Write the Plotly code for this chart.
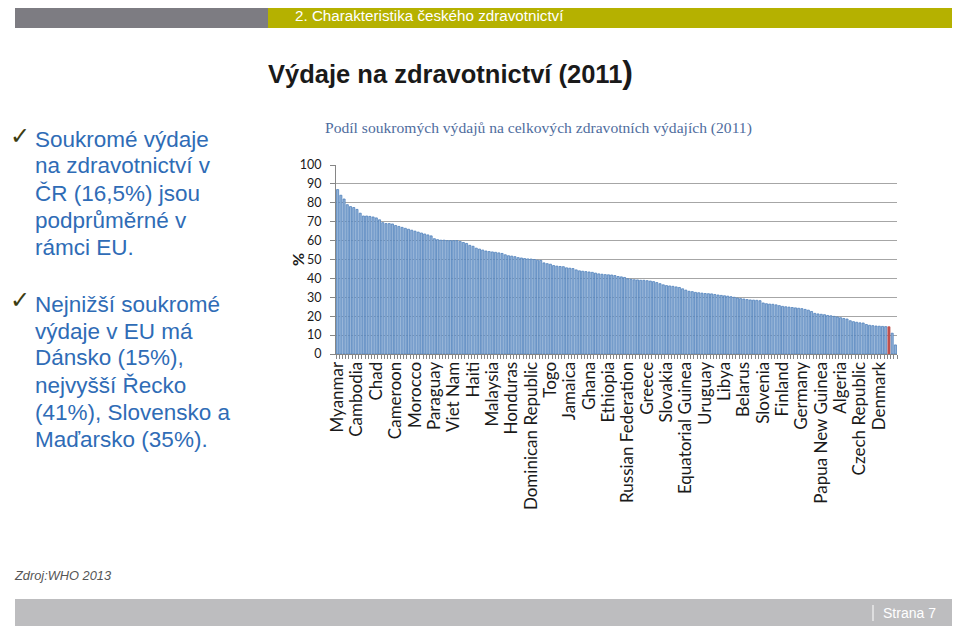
import plotly.graph_objects as go

W, H = 960, 629
OFF = 8  # page body margin shifts the figure by this much

# private share of total health expenditure, 2011 (%), sorted descending
values = [
    87, 84, 82, 79, 78, 77.5, 76.5, 74.5, 73, 73,
    72.8, 72.5, 72, 71, 69.5, 69, 69, 68.8, 68, 67.5,
    67, 66.5, 66, 65.5, 65, 64.5, 64, 63.5, 63, 62.5,
    61, 60.5, 60.2, 60.2, 60, 60, 60, 60, 59.5, 59,
    58.5, 57.5, 57, 56, 55.5, 55, 54.5, 54.2, 54, 53.8,
    53.5, 53.2, 52.5, 52, 51.8, 51.5, 51, 50.8, 50.5, 50.3,
    50.2, 50, 49.6, 49.5, 48.2, 47.8, 47.5, 46.8, 46.5, 46.3,
    46.2, 45.6, 45.4, 45.2, 44.5, 44, 43.8, 43.6, 43.4, 43.2,
    42.8, 42.4, 42.2, 42, 41.9, 41.8, 41.5, 41, 40.8, 40.5,
    39.8, 39.5, 39.3, 39.2, 39, 39, 38.8, 38.6, 38.3, 37.8,
    37.2, 36.6, 36.2, 36, 35.8, 35.5, 35.2, 34.5, 33.8, 33.2,
    33, 32.6, 32.4, 32.2, 32, 31.9, 31.8, 31.5, 31.2, 31,
    30.8, 30.6, 30.3, 30, 29.6, 29.3, 29.1, 28.8, 28.6, 28.5,
    28.4, 28.2, 27, 26.6, 26.4, 26.3, 26, 25.6, 25.2, 25,
    24.8, 24.6, 24.4, 24.2, 24, 23.6, 23.2, 22.5, 21.5, 21.2,
    21, 20.8, 20.4, 20.2, 19.9, 19.6, 19.2, 18.8, 18.5, 17.6,
    17.1, 16.8, 16.5, 16.4, 15.6, 15.2, 15, 14.8, 14.7, 14.6,
    14.5, 14.4, 11, 4.8,
]

# every 6th country is labelled on the axis
labels = [
    "Myanmar", "Cambodia", "Chad", "Cameroon", "Morocco", "Paraguay",
    "Viet Nam", "Haiti", "Malaysia", "Honduras", "Dominican Republic", "Togo",
    "Jamaica", "Ghana", "Ethiopia", "Russian Federation", "Greece", "Slovakia",
    "Equatorial Guinea", "Uruguay", "Libya", "Belarus", "Slovenia", "Finland",
    "Germany", "Papua New Guinea", "Algeria", "Czech Republic", "Denmark",
]
label_step = 6
highlight = 171

y_ticks = list(range(0, 101, 10))

bullet1 = ["Soukromé výdaje", "na zdravotnictví v", "ČR (16,5%) jsou",
           "podprůměrné v", "rámci EU."]
bullet2 = ["Nejnižší soukromé", "výdaje v EU má", "Dánsko (15%),",
           "nejvyšší Řecko", "(41%), Slovensko a", "Maďarsko (35%)."]


def py(y):
    return 1 - (y - OFF) / H


def px(x):
    return (x - OFF) / W


idx = list(range(len(values)))
fill = ["#c0504d" if i == highlight else "#95b3d7" for i in idx]
edge = ["#c0504d" if i == highlight else "#4f81bd" for i in idx]

fig = go.Figure()
fig.add_trace(go.Bar(
    x=idx, y=values,
    marker=dict(color=fill, line=dict(color=edge, width=0.8)),
    hoverinfo="y",
))

fig.update_layout(
    width=W, height=H,
    margin=dict(l=0, r=0, t=0, b=0, pad=0, autoexpand=False),
    paper_bgcolor="white", plot_bgcolor="white",
    showlegend=False, bargap=0.35,
    font=dict(family="Liberation Sans", color="#222"),
)
fig.update_xaxes(
    automargin=False,
    domain=[px(336), px(897)], range=[-0.5, len(values) - 0.5],
    tickvals=idx[::label_step][:len(labels)], ticktext=labels,
    tickangle=-90, ticks="", tickfont=dict(family="Lato", size=17, color="#1a1a1a"),
    showgrid=False, zeroline=False, showline=True, linecolor="#868686",
    minor=dict(tickvals=[i + 0.5 for i in [-1] + idx], ticks="outside",
               ticklen=4, tickcolor="#868686", showgrid=False),
)
fig.update_yaxes(
    automargin=False,
    domain=[py(354), py(165)], range=[0, 100],
    tickvals=y_ticks, ticks="outside", ticklen=5, tickcolor="#868686",
    ticklabelstandoff=6,
    tickfont=dict(family="Lato", size=12.5, color="#1a1a1a"),
    showgrid=True, gridcolor="#a6a6a6", gridwidth=1, zeroline=False,
    showline=True, linecolor="#868686",
)

shapes = [
    dict(type="rect", xref="paper", yref="paper", x0=px(15), x1=px(268),
         y0=py(28), y1=py(3), fillcolor="#7d7c82", line_width=0, layer="below"),
    dict(type="rect", xref="paper", yref="paper", x0=px(268), x1=px(957),
         y0=py(28), y1=py(3), fillcolor="#b5b100", line_width=0, layer="below"),
    dict(type="rect", xref="paper", yref="paper", x0=px(15), x1=px(957),
         y0=py(626), y1=py(599), fillcolor="#bdbdbf", line_width=0, layer="below"),
    dict(type="line", xref="paper", yref="paper", x0=px(873), x1=px(873),
         y0=py(621), y1=py(605), line=dict(color="white", width=1)),
]

ann = [
    dict(x=px(293), y=py(15), text="2. Charakteristika českého zdravotnictví",
         xanchor="left", font=dict(size=15.2, color="white")),
    dict(x=px(266), y=py(72),
         text="<b>Výdaje na zdravotnictví (2011<span style='font-size:32px'>)</span></b>",
         xanchor="left", font=dict(size=25.5, color="#1a1a1a")),
    dict(x=px(538), y=py(128),
         text="Podíl soukromých výdajů na celkových zdravotních výdajích (2011)",
         font=dict(family="Liberation Serif", size=15.6, color="#4f6d9e")),
    dict(x=px(298), y=py(260), text="<b>%</b>", textangle=-90,
         font=dict(family="Lato", size=16, color="#1a1a1a")),
    dict(x=px(8), y=py(136), text="✓", xanchor="left",
         font=dict(family="DejaVu Sans", size=24, color="#3d3d12")),
    dict(x=px(8), y=py(300), text="✓", xanchor="left",
         font=dict(family="DejaVu Sans", size=24, color="#3d3d12")),
    dict(x=px(12), y=py(575), text="<i>Zdroj:WHO 2013</i>", xanchor="left",
         font=dict(size=12.8, color="#555")),
    dict(x=px(881), y=py(613), text="Strana 7", xanchor="left",
         font=dict(size=14, color="white")),
]
for k, line in enumerate(bullet1):
    ann.append(dict(x=px(33), y=py(139 + 27 * k), text=line, xanchor="left",
                    font=dict(size=22.5, color="#2f6cb6")))
for k, line in enumerate(bullet2):
    ann.append(dict(x=px(33), y=py(304 + 27 * k), text=line, xanchor="left",
                    font=dict(size=22.5, color="#2f6cb6")))

for a in ann:
    a.update(xref="paper", yref="paper", showarrow=False)
    a.setdefault("xanchor", "center")
    a.setdefault("yanchor", "middle")

fig.update_layout(shapes=shapes, annotations=ann)
fig.write_html("out.html")
